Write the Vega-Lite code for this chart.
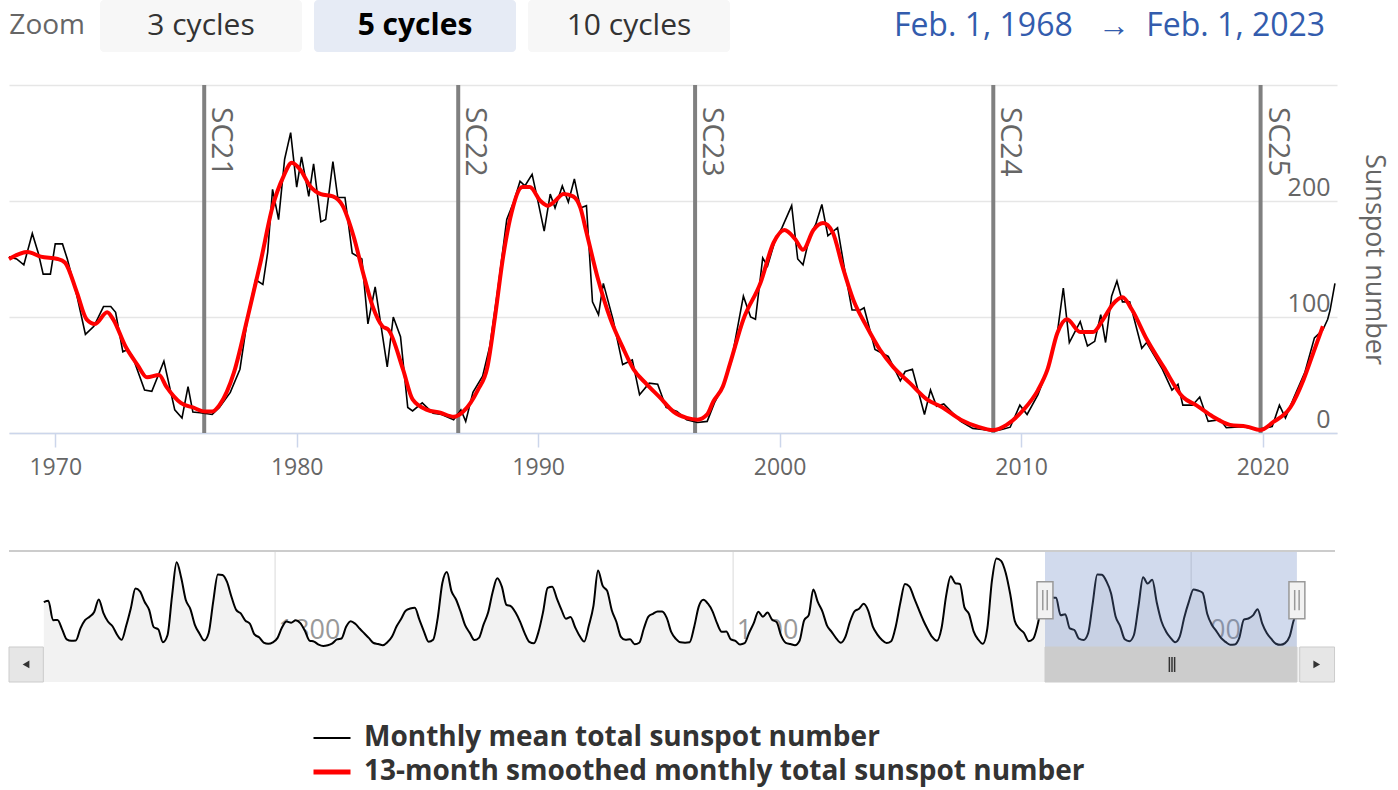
{
 "$schema": "https://vega.github.io/schema/vega-lite/v6.json",
 "padding": {"left": 1, "top": 0, "right": 12, "bottom": 4},
 "background": "white",
 "config": {"view": {"stroke": null}, "font": "Open Sans"},
 "datasets": {
  "header": [
   {"label": "Zoom", "kind": "caption"},
   {"label": "3 cycles", "kind": "button"},
   {"label": "5 cycles", "kind": "selected"},
   {"label": "10 cycles", "kind": "button"},
   {"label": "Feb. 1, 1968\u00a0\u00a0\u00a0→\u00a0\u00a0Feb. 1, 2023", "kind": "range"}
  ],
  "cycles": [
   {"name": "SC21", "start": 1976.17},
   {"name": "SC22", "start": 1986.69},
   {"name": "SC23", "start": 1996.5},
   {"name": "SC24", "start": 2008.85},
   {"name": "SC25", "start": 2019.92}
  ],
  "monthly": [
   {"t":1968.085,"v":152},{"t":1968.4,"v":150},{"t":1968.7,"v":145},{"t":1969.05,"v":172},{"t":1969.3,"v":155},{"t":1969.5,"v":137},{"t":1969.8,"v":137},{"t":1970.0,"v":163},{"t":1970.3,"v":163},{"t":1970.5,"v":150},{"t":1970.9,"v":118},{"t":1971.25,"v":85},{"t":1971.6,"v":92},{"t":1972.0,"v":109},{"t":1972.3,"v":109},{"t":1972.5,"v":104},{"t":1972.8,"v":70},{"t":1973.0,"v":72},{"t":1973.2,"v":66},{"t":1973.7,"v":37},{"t":1974.0,"v":36},{"t":1974.5,"v":62},{"t":1974.95,"v":20},{"t":1975.25,"v":13},{"t":1975.5,"v":40},{"t":1975.7,"v":18},{"t":1976.0,"v":17.5},{"t":1976.5,"v":16},{"t":1976.8,"v":22},{"t":1977.25,"v":35},{"t":1977.65,"v":55},{"t":1978.0,"v":104},{"t":1978.3,"v":132},{"t":1978.6,"v":128},{"t":1978.8,"v":156},{"t":1979.0,"v":210},{"t":1979.25,"v":184},{"t":1979.5,"v":236},{"t":1979.75,"v":259},{"t":1980.0,"v":212},{"t":1980.2,"v":238},{"t":1980.5,"v":204},{"t":1980.7,"v":232},{"t":1981.0,"v":182},{"t":1981.2,"v":184},{"t":1981.5,"v":234},{"t":1981.7,"v":203},{"t":1982.0,"v":203},{"t":1982.3,"v":155},{"t":1982.7,"v":150},{"t":1982.95,"v":94},{"t":1983.25,"v":126},{"t":1983.75,"v":57},{"t":1984.0,"v":100},{"t":1984.3,"v":83},{"t":1984.6,"v":22},{"t":1984.8,"v":19},{"t":1985.2,"v":26},{"t":1985.65,"v":17},{"t":1986.0,"v":16},{"t":1986.5,"v":11.5},{"t":1986.8,"v":20},{"t":1987.0,"v":10},{"t":1987.3,"v":35},{"t":1987.7,"v":49},{"t":1988.0,"v":75},{"t":1988.35,"v":127},{"t":1988.7,"v":184},{"t":1989.0,"v":200},{"t":1989.25,"v":217},{"t":1989.45,"v":213},{"t":1989.75,"v":223},{"t":1990.0,"v":199},{"t":1990.25,"v":174},{"t":1990.5,"v":206},{"t":1990.7,"v":194},{"t":1991.0,"v":213},{"t":1991.25,"v":199},{"t":1991.5,"v":219},{"t":1991.75,"v":194},{"t":1992.0,"v":196},{"t":1992.25,"v":113},{"t":1992.5,"v":102},{"t":1992.7,"v":129},{"t":1993.1,"v":98},{"t":1993.5,"v":59},{"t":1993.9,"v":63},{"t":1994.2,"v":33},{"t":1994.6,"v":43},{"t":1994.95,"v":42},{"t":1995.3,"v":22},{"t":1995.75,"v":18.5},{"t":1996.15,"v":11.5},{"t":1996.6,"v":9},{"t":1997.0,"v":10},{"t":1997.3,"v":26},{"t":1997.65,"v":40},{"t":1998.0,"v":62},{"t":1998.5,"v":118},{"t":1998.8,"v":100},{"t":1999.0,"v":98},{"t":1999.3,"v":151},{"t":1999.5,"v":144},{"t":1999.8,"v":165},{"t":2000.1,"v":177},{"t":2000.5,"v":196},{"t":2000.75,"v":150},{"t":2000.97,"v":145},{"t":2001.25,"v":170},{"t":2001.5,"v":180},{"t":2001.75,"v":197},{"t":2002.0,"v":170},{"t":2002.4,"v":177},{"t":2002.7,"v":140},{"t":2003.0,"v":106},{"t":2003.35,"v":106},{"t":2003.5,"v":108},{"t":2003.95,"v":72},{"t":2004.5,"v":66},{"t":2005.0,"v":45},{"t":2005.2,"v":53},{"t":2005.5,"v":55},{"t":2006.0,"v":16},{"t":2006.25,"v":37},{"t":2006.5,"v":23},{"t":2006.8,"v":25},{"t":2007.5,"v":10},{"t":2008.0,"v":4},{"t":2008.4,"v":3},{"t":2008.85,"v":1.5},{"t":2009.2,"v":3},{"t":2009.55,"v":5},{"t":2009.95,"v":24},{"t":2010.25,"v":16},{"t":2010.7,"v":33},{"t":2011.1,"v":55},{"t":2011.5,"v":86},{"t":2011.75,"v":125},{"t":2012.0,"v":78},{"t":2012.45,"v":96},{"t":2012.75,"v":75},{"t":2013.05,"v":79},{"t":2013.3,"v":102},{"t":2013.5,"v":78},{"t":2013.75,"v":118},{"t":2013.97,"v":131},{"t":2014.2,"v":113},{"t":2014.5,"v":113},{"t":2015.0,"v":73},{"t":2015.2,"v":78},{"t":2015.85,"v":55},{"t":2016.25,"v":37},{"t":2016.5,"v":42},{"t":2016.7,"v":24},{"t":2017.1,"v":24},{"t":2017.4,"v":31},{"t":2017.75,"v":10},{"t":2018.25,"v":11.5},{"t":2018.5,"v":4.5},{"t":2019.2,"v":5.5},{"t":2019.75,"v":3},{"t":2020.4,"v":5.5},{"t":2020.7,"v":24},{"t":2020.95,"v":13},{"t":2021.3,"v":30.5},{"t":2021.75,"v":52},{"t":2022.15,"v":82},{"t":2022.5,"v":89},{"t":2022.7,"v":98},{"t":2022.8,"v":106},{"t":2023.0,"v":129}
  ],
  "smoothed": [
   {"t":1968.085,"v":150},{"t":1968.85,"v":156},{"t":1969.4,"v":152},{"t":1970.1,"v":150},{"t":1970.4,"v":147},{"t":1970.9,"v":121},{"t":1971.3,"v":98},{"t":1971.65,"v":94},{"t":1972.15,"v":104},{"t":1972.4,"v":98},{"t":1972.9,"v":75},{"t":1973.4,"v":59},{"t":1973.8,"v":48},{"t":1974.3,"v":50},{"t":1974.6,"v":40},{"t":1975.2,"v":26},{"t":1975.7,"v":22},{"t":1976.2,"v":18.5},{"t":1976.5,"v":18.5},{"t":1976.8,"v":24},{"t":1977.4,"v":52},{"t":1977.95,"v":98},{"t":1978.5,"v":147},{"t":1979.0,"v":195},{"t":1979.45,"v":221},{"t":1979.8,"v":233},{"t":1980.15,"v":227},{"t":1980.55,"v":213},{"t":1981.0,"v":206},{"t":1981.5,"v":204},{"t":1981.9,"v":196},{"t":1982.35,"v":170},{"t":1982.75,"v":138},{"t":1983.15,"v":109},{"t":1983.55,"v":92},{"t":1983.8,"v":89},{"t":1984.4,"v":55},{"t":1984.8,"v":29},{"t":1985.4,"v":20},{"t":1985.95,"v":17.5},{"t":1986.5,"v":14},{"t":1986.9,"v":18.5},{"t":1987.5,"v":37},{"t":1987.9,"v":57},{"t":1988.2,"v":98},{"t":1988.55,"v":152},{"t":1988.9,"v":190},{"t":1989.35,"v":212},{"t":1989.65,"v":212},{"t":1990.1,"v":200},{"t":1990.4,"v":196},{"t":1990.7,"v":200},{"t":1991.05,"v":206},{"t":1991.45,"v":204},{"t":1991.75,"v":194},{"t":1992.0,"v":173},{"t":1992.45,"v":135},{"t":1993.0,"v":98},{"t":1993.5,"v":74},{"t":1993.95,"v":55},{"t":1994.5,"v":42},{"t":1995.05,"v":30.5},{"t":1995.6,"v":18.5},{"t":1996.15,"v":13},{"t":1996.6,"v":11.5},{"t":1997.0,"v":16},{"t":1997.25,"v":27},{"t":1997.65,"v":40},{"t":1997.95,"v":60},{"t":1998.5,"v":98},{"t":1999.2,"v":129},{"t":1999.75,"v":164},{"t":2000.2,"v":175},{"t":2000.65,"v":167},{"t":2000.97,"v":158},{"t":2001.4,"v":175},{"t":2001.8,"v":181},{"t":2002.2,"v":173},{"t":2002.6,"v":144},{"t":2003.05,"v":115},{"t":2003.6,"v":92},{"t":2004.15,"v":72},{"t":2004.7,"v":57},{"t":2005.4,"v":43},{"t":2006.1,"v":29},{"t":2006.75,"v":22},{"t":2007.5,"v":11.5},{"t":2008.2,"v":5.5},{"t":2008.85,"v":2.5},{"t":2009.4,"v":7},{"t":2010.1,"v":20},{"t":2010.7,"v":37},{"t":2011.1,"v":55},{"t":2011.5,"v":86},{"t":2011.9,"v":98},{"t":2012.45,"v":87},{"t":2012.98,"v":87},{"t":2013.4,"v":98},{"t":2013.8,"v":111},{"t":2014.2,"v":117},{"t":2014.6,"v":106},{"t":2015.2,"v":81},{"t":2015.9,"v":57},{"t":2016.7,"v":31},{"t":2017.25,"v":24},{"t":2017.95,"v":14},{"t":2018.65,"v":7},{"t":2019.35,"v":5.5},{"t":2019.9,"v":2.5},{"t":2020.45,"v":9.5},{"t":2021.15,"v":22},{"t":2021.7,"v":46},{"t":2022.1,"v":69},{"t":2022.5,"v":92}
  ],
  "yearly": [
   {"t":1749.5,"v":134.7},{"t":1750.5,"v":139.0},{"t":1751.5,"v":79.5},{"t":1752.5,"v":79.7},{"t":1753.5,"v":51.2},{"t":1754.5,"v":20.3},{"t":1755.5,"v":16.0},{"t":1756.5,"v":17.0},{"t":1757.5,"v":54.0},{"t":1758.5,"v":79.3},{"t":1759.5,"v":90.0},{"t":1760.5,"v":104.8},{"t":1761.5,"v":143.2},{"t":1762.5,"v":102.0},{"t":1763.5,"v":75.2},{"t":1764.5,"v":60.7},{"t":1765.5,"v":34.8},{"t":1766.5,"v":19.0},{"t":1767.5,"v":63.0},{"t":1768.5,"v":116.3},{"t":1769.5,"v":176.8},{"t":1770.5,"v":168.0},{"t":1771.5,"v":136.0},{"t":1772.5,"v":110.8},{"t":1773.5,"v":58.0},{"t":1774.5,"v":51.0},{"t":1775.5,"v":11.7},{"t":1776.5,"v":33.0},{"t":1777.5,"v":154.2},{"t":1778.5,"v":257.3},{"t":1779.5,"v":209.8},{"t":1780.5,"v":141.3},{"t":1781.5,"v":113.5},{"t":1782.5,"v":64.2},{"t":1783.5,"v":38.0},{"t":1784.5,"v":17.0},{"t":1785.5,"v":40.2},{"t":1786.5,"v":138.2},{"t":1787.5,"v":220.0},{"t":1788.5,"v":218.2},{"t":1789.5,"v":196.8},{"t":1790.5,"v":149.8},{"t":1791.5,"v":111.0},{"t":1792.5,"v":100.0},{"t":1793.5,"v":78.2},{"t":1794.5,"v":68.3},{"t":1795.5,"v":35.5},{"t":1796.5,"v":26.7},{"t":1797.5,"v":10.7},{"t":1798.5,"v":6.8},{"t":1799.5,"v":11.3},
   {"t":1800.5,"v":24.2},{"t":1801.5,"v":56.7},{"t":1802.5,"v":75.0},{"t":1803.5,"v":71.8},{"t":1804.5,"v":79.2},{"t":1805.5,"v":70.3},{"t":1806.5,"v":46.8},{"t":1807.5,"v":16.8},{"t":1808.5,"v":13.5},{"t":1809.5,"v":4.2},{"t":1810.5,"v":0.0},{"t":1811.5,"v":2.3},{"t":1812.5,"v":8.3},{"t":1813.5,"v":20.3},{"t":1814.5,"v":23.2},{"t":1815.5,"v":59.0},{"t":1816.5,"v":76.3},{"t":1817.5,"v":68.3},{"t":1818.5,"v":52.9},{"t":1819.5,"v":38.5},{"t":1820.5,"v":24.2},{"t":1821.5,"v":9.2},{"t":1822.5,"v":6.3},{"t":1823.5,"v":2.2},{"t":1824.5,"v":11.4},{"t":1825.5,"v":28.2},{"t":1826.5,"v":59.9},{"t":1827.5,"v":83.0},{"t":1828.5,"v":108.5},{"t":1829.5,"v":115.2},{"t":1830.5,"v":117.4},{"t":1831.5,"v":80.8},{"t":1832.5,"v":44.3},{"t":1833.5,"v":13.4},{"t":1834.5,"v":19.5},{"t":1835.5,"v":85.8},{"t":1836.5,"v":192.7},{"t":1837.5,"v":227.3},{"t":1838.5,"v":168.7},{"t":1839.5,"v":143.0},{"t":1840.5,"v":105.5},{"t":1841.5,"v":63.3},{"t":1842.5,"v":40.3},{"t":1843.5,"v":18.1},{"t":1844.5,"v":25.1},{"t":1845.5,"v":65.8},{"t":1846.5,"v":102.7},{"t":1847.5,"v":166.3},{"t":1848.5,"v":208.3},{"t":1849.5,"v":182.5},
   {"t":1850.5,"v":126.3},{"t":1851.5,"v":122.0},{"t":1852.5,"v":102.7},{"t":1853.5,"v":74.1},{"t":1854.5,"v":39.0},{"t":1855.5,"v":12.7},{"t":1856.5,"v":8.2},{"t":1857.5,"v":43.4},{"t":1858.5,"v":104.4},{"t":1859.5,"v":178.3},{"t":1860.5,"v":182.2},{"t":1861.5,"v":146.6},{"t":1862.5,"v":112.1},{"t":1863.5,"v":83.5},{"t":1864.5,"v":89.2},{"t":1865.5,"v":57.8},{"t":1866.5,"v":30.7},{"t":1867.5,"v":13.9},{"t":1868.5,"v":62.8},{"t":1869.5,"v":123.6},{"t":1870.5,"v":232.0},{"t":1871.5,"v":185.3},{"t":1872.5,"v":169.2},{"t":1873.5,"v":110.1},{"t":1874.5,"v":74.5},{"t":1875.5,"v":28.3},{"t":1876.5,"v":18.9},{"t":1877.5,"v":20.7},{"t":1878.5,"v":5.7},{"t":1879.5,"v":10.0},{"t":1880.5,"v":53.7},{"t":1881.5,"v":90.5},{"t":1882.5,"v":99.0},{"t":1883.5,"v":106.1},{"t":1884.5,"v":105.8},{"t":1885.5,"v":86.3},{"t":1886.5,"v":42.4},{"t":1887.5,"v":21.8},{"t":1888.5,"v":11.2},{"t":1889.5,"v":10.4},{"t":1890.5,"v":11.8},{"t":1891.5,"v":59.5},{"t":1892.5,"v":121.7},{"t":1893.5,"v":142.0},{"t":1894.5,"v":130.0},{"t":1895.5,"v":106.6},{"t":1896.5,"v":69.4},{"t":1897.5,"v":43.8},{"t":1898.5,"v":44.4},{"t":1899.5,"v":20.2},
   {"t":1900.5,"v":15.7},{"t":1901.5,"v":4.6},{"t":1902.5,"v":8.5},{"t":1903.5,"v":40.8},{"t":1904.5,"v":70.1},{"t":1905.5,"v":105.5},{"t":1906.5,"v":90.1},{"t":1907.5,"v":102.8},{"t":1908.5,"v":80.9},{"t":1909.5,"v":73.2},{"t":1910.5,"v":30.9},{"t":1911.5,"v":9.5},{"t":1912.5,"v":6.0},{"t":1913.5,"v":2.4},{"t":1914.5,"v":16.1},{"t":1915.5,"v":79.0},{"t":1916.5,"v":95.0},{"t":1917.5,"v":173.6},{"t":1918.5,"v":134.6},{"t":1919.5,"v":105.7},{"t":1920.5,"v":62.7},{"t":1921.5,"v":43.5},{"t":1922.5,"v":23.7},{"t":1923.5,"v":9.7},{"t":1924.5,"v":27.9},{"t":1925.5,"v":74.0},{"t":1926.5,"v":106.5},{"t":1927.5,"v":114.7},{"t":1928.5,"v":129.7},{"t":1929.5,"v":108.2},{"t":1930.5,"v":59.4},{"t":1931.5,"v":35.1},{"t":1932.5,"v":18.6},{"t":1933.5,"v":9.2},{"t":1934.5,"v":14.6},{"t":1935.5,"v":60.2},{"t":1936.5,"v":132.8},{"t":1937.5,"v":190.6},{"t":1938.5,"v":182.6},{"t":1939.5,"v":148.0},{"t":1940.5,"v":113.0},{"t":1941.5,"v":79.2},{"t":1942.5,"v":50.8},{"t":1943.5,"v":27.1},{"t":1944.5,"v":16.1},{"t":1945.5,"v":55.3},{"t":1946.5,"v":154.3},{"t":1947.5,"v":214.7},{"t":1948.5,"v":193.0},{"t":1949.5,"v":190.7},
   {"t":1950.5,"v":118.9},{"t":1951.5,"v":98.3},{"t":1952.5,"v":45.0},{"t":1953.5,"v":20.1},{"t":1954.5,"v":6.6},{"t":1955.5,"v":54.2},{"t":1956.5,"v":200.7},{"t":1957.5,"v":269.3},{"t":1958.5,"v":261.7},{"t":1959.5,"v":225.1},{"t":1960.5,"v":159.0},{"t":1961.5,"v":76.4},{"t":1962.5,"v":53.4},{"t":1963.5,"v":39.9},{"t":1964.5,"v":15.0},{"t":1965.5,"v":22.0},{"t":1966.5,"v":66.8},{"t":1967.5,"v":132.9},{"t":1968.5,"v":150.2},{"t":1969.5,"v":149.4},{"t":1970.5,"v":148.0},{"t":1971.5,"v":94.4},{"t":1972.5,"v":97.6},{"t":1973.5,"v":54.1},{"t":1974.5,"v":49.2},{"t":1975.5,"v":22.5},{"t":1976.5,"v":18.4},{"t":1977.5,"v":39.3},{"t":1978.5,"v":131.0},{"t":1979.5,"v":220.1},{"t":1980.5,"v":218.9},{"t":1981.5,"v":198.9},{"t":1982.5,"v":162.4},{"t":1983.5,"v":91.0},{"t":1984.5,"v":60.5},{"t":1985.5,"v":20.6},{"t":1986.5,"v":14.8},{"t":1987.5,"v":33.9},{"t":1988.5,"v":123.0},{"t":1989.5,"v":211.1},{"t":1990.5,"v":191.8},{"t":1991.5,"v":203.3},{"t":1992.5,"v":133.0},{"t":1993.5,"v":76.1},{"t":1994.5,"v":44.9},{"t":1995.5,"v":25.1},{"t":1996.5,"v":11.6},{"t":1997.5,"v":28.9},{"t":1998.5,"v":88.3},{"t":1999.5,"v":136.3},
   {"t":2000.5,"v":173.9},{"t":2001.5,"v":170.4},{"t":2002.5,"v":163.6},{"t":2003.5,"v":99.3},{"t":2004.5,"v":65.3},{"t":2005.5,"v":45.8},{"t":2006.5,"v":24.7},{"t":2007.5,"v":12.6},{"t":2008.5,"v":4.2},{"t":2009.5,"v":4.8},{"t":2010.5,"v":24.9},{"t":2011.5,"v":80.8},{"t":2012.5,"v":84.5},{"t":2013.5,"v":94.0},{"t":2014.5,"v":113.3},{"t":2015.5,"v":69.8},{"t":2016.5,"v":39.8},{"t":2017.5,"v":21.7},{"t":2018.5,"v":7.0},{"t":2019.5,"v":3.6},{"t":2020.5,"v":8.8},{"t":2021.5,"v":29.6},{"t":2022.5,"v":83.2},{"t":2023.0,"v":92}
  ],
  "navgrid": [{"t": 1800}, {"t": 1900}, {"t": 2000}],
  "selection": [{"from": 1968.085, "to": 2023.085}],
  "handles": [{"t": 1968.085}, {"t": 2023.085}],
  "scroll": [
   {"part": "track", "from": 1741.9, "to": 2031.4},
   {"part": "left", "from": 1741.9, "to": 1749.4},
   {"part": "right", "from": 2023.7, "to": 2031.3},
   {"part": "thumb", "from": 1968.085, "to": 2023.085}
  ]
 },
 "bounds": "flush",
 "spacing": 33,
 "resolve": {"scale": {"x": "independent", "y": "independent"}},
 "vconcat": [
  {
   "width": 1328,
   "height": 52,
   "data": {"name": "header"},
   "layer": [
    {
     "transform": [{"filter": "datum.kind == 'button' || datum.kind == 'selected'"}],
     "mark": {"type": "rect", "cornerRadius": 4},
     "encoding": {
      "x": {"field": "label", "type": "nominal", "axis": null,
            "scale": {"type": "band", "domain": ["Zoom", "3 cycles", "5 cycles", "10 cycles", "gap", "Feb. 1, 1968\u00a0\u00a0\u00a0→\u00a0\u00a0Feb. 1, 2023"], "range": [-123, 1149], "paddingInner": 0.056, "paddingOuter": 0}},
      "fill": {"condition": {"test": "datum.kind == 'selected'", "value": "#e6ebf5"}, "value": "#f7f7f7"}
     }
    },
    {
     "transform": [{"filter": "datum.kind == 'button'"}],
     "mark": {"type": "text", "fontSize": 30, "color": "#333333", "align": "center", "baseline": "middle"},
     "encoding": {"x": {"field": "label", "type": "nominal", "bandPosition": 0.5}, "text": {"field": "label"}}
    },
    {
     "transform": [{"filter": "datum.kind == 'selected'"}],
     "mark": {"type": "text", "fontSize": 30, "fontWeight": "bold", "color": "#000000", "align": "center", "baseline": "middle"},
     "encoding": {"x": {"field": "label", "type": "nominal", "bandPosition": 0.5}, "text": {"field": "label"}}
    },
    {
     "transform": [{"filter": "datum.kind == 'caption'"}],
     "mark": {"type": "text", "fontSize": 28, "color": "#666666", "align": "right", "baseline": "middle", "dx": -3},
     "encoding": {"x": {"field": "label", "type": "nominal", "bandPosition": 1}, "text": {"field": "label"}}
    },
    {
     "transform": [{"filter": "datum.kind == 'range'"}],
     "mark": {"type": "text", "fontSize": 32, "color": "#335cad", "align": "center", "baseline": "middle"},
     "encoding": {"x": {"field": "label", "type": "nominal", "bandPosition": 0.76}, "text": {"field": "label"}}
    }
   ]
  },
  {
   "width": 1328,
   "height": 348,
   "layer": [
    {
     "data": {"name": "cycles"},
     "mark": {"type": "rule", "color": "#808080", "strokeWidth": 4},
     "encoding": {
      "x": {"field": "start", "type": "quantitative",
            "scale": {"domain": [1968.085, 2023.085], "nice": false, "zero": false},
            "axis": {"values": [1970, 1980, 1990, 2000, 2010, 2020], "format": "d", "title": null, "grid": false,
                     "domainColor": "#ccd6eb", "domainWidth": 1.5, "tickColor": "#ccd6eb", "tickWidth": 1.5, "tickSize": 14,
                     "labelFontSize": 23, "labelColor": "#666666", "labelPadding": 9}}
     }
    },
    {
     "data": {"name": "cycles"},
     "mark": {"type": "text", "angle": 90, "align": "left", "baseline": "alphabetic", "dx": 22, "dy": -8, "fontSize": 30, "color": "#666666"},
     "encoding": {
      "x": {"field": "start", "type": "quantitative"},
      "y": {"datum": 300, "type": "quantitative"},
      "text": {"field": "name"}
     }
    },
    {
     "data": {"name": "monthly"},
     "mark": {"type": "line", "strokeWidth": 1.6},
     "encoding": {
      "x": {"field": "t", "type": "quantitative"},
      "y": {"field": "v", "type": "quantitative",
            "scale": {"domain": [0, 300], "nice": false, "zero": false},
            "axis": {"orient": "right", "values": [0, 100, 200, 300], "labelExpr": "datum.value == 300 ? '' : datum.label",
                     "grid": true, "gridColor": "#e6e6e6", "gridWidth": 1.5, "domain": false, "ticks": false,
                     "labelAlign": "right", "labelBaseline": "alphabetic", "labelPadding": -7, "labelOffset": -6,
                     "labelFontSize": 25, "labelColor": "#666666",
                     "title": "Sunspot number", "titleFontSize": 27, "titleFontWeight": "normal", "titleColor": "#666666", "titlePadding": 22}},
      "color": {"datum": "Monthly mean total sunspot number", "type": "nominal",
                "scale": {"domain": ["Monthly mean total sunspot number", "13-month smoothed monthly total sunspot number"], "range": ["#000000", "#ff0000"]},
                "legend": {"orient": "none", "legendX": 309, "legendY": 724, "direction": "vertical", "title": null,
                           "symbolType": "stroke", "symbolSize": 1369, "symbolStrokeWidth": 2,
                           "labelFontSize": 28, "labelFontWeight": "bold", "labelColor": "#333333", "labelLimit": 0, "labelOffset": 18, "rowPadding": 6,
                           "encode": {"symbols": {"update": {"strokeWidth": {"signal": "datum.value == 'Monthly mean total sunspot number' ? 2 : 5"}}}}}}
     }
    },
    {
     "data": {"name": "smoothed"},
     "mark": {"type": "line", "strokeWidth": 4, "interpolate": "monotone"},
     "encoding": {
      "x": {"field": "t", "type": "quantitative"},
      "y": {"field": "v", "type": "quantitative"},
      "color": {"datum": "13-month smoothed monthly total sunspot number", "type": "nominal"}
     }
    }
   ]
  },
  {
   "width": 1326,
   "height": 216,
   "layer": [
    {
     "data": {"name": "navgrid"},
     "mark": {"type": "rule", "color": "#e6e6e6", "strokeWidth": 1.5},
     "encoding": {
      "x": {"field": "t", "type": "quantitative",
            "scale": {"domain": [1741.9, 2031.4], "nice": false, "zero": false},
            "axis": {"values": [1800, 1900, 2000], "format": "d", "title": null, "grid": false,
                     "ticks": false, "domain": false, "labelAlign": "left", "labelBaseline": "alphabetic", "labelPadding": -44, "labelOffset": 3,
                     "labelColor": "#999999", "labelFontSize": 27}},
      "y": {"datum": 292, "type": "quantitative", "scale": {"domain": [-110.6, 553.2], "nice": false, "zero": false}, "axis": null},
      "y2": {"datum": -3}
     }
    },
    {
     "data": {"name": "yearly"},
     "mark": {"type": "area", "interpolate": "monotone", "fill": "#f2f2f2"},
     "encoding": {
      "x": {"field": "t", "type": "quantitative"},
      "y": {"field": "v", "type": "quantitative"},
      "y2": {"datum": -3}
     }
    },
    {
     "data": {"name": "yearly"},
     "mark": {"type": "line", "interpolate": "monotone", "color": "#000000", "strokeWidth": 2},
     "encoding": {
      "x": {"field": "t", "type": "quantitative"},
      "y": {"field": "v", "type": "quantitative"}
     }
    },
    {
     "data": {"name": "selection"},
     "mark": {"type": "rect", "fill": "#6685c2", "opacity": 0.3},
     "encoding": {"x": {"field": "from", "type": "quantitative"}, "x2": {"field": "to"}, "y": {"datum": 292, "type": "quantitative"}, "y2": {"datum": -3}}
    },
    {
     "data": {"name": "selection"},
     "mark": {"type": "rule", "color": "#cccccc", "strokeWidth": 2},
     "encoding": {"y": {"datum": 292, "type": "quantitative"}}
    },
    {
     "data": {"name": "handles"},
     "mark": {"type": "point", "shape": "M-0.43,-1H0.43V1H-0.43Z", "filled": true, "fill": "#f2f2f2", "stroke": "#999999", "strokeWidth": 1.5, "size": 1369, "opacity": 1},
     "encoding": {"x": {"field": "t", "type": "quantitative"}, "y": {"datum": 141, "type": "quantitative"}}
    },
    {
     "data": {"name": "handles"},
     "mark": {"type": "point", "shape": "M-0.12,-0.55V0.55M0.12,-0.55V0.55", "filled": false, "stroke": "#999999", "strokeWidth": 1.5, "size": 1369, "opacity": 1},
     "encoding": {"x": {"field": "t", "type": "quantitative"}, "y": {"datum": 141, "type": "quantitative"}}
    },
    {
     "data": {"name": "scroll"},
     "transform": [{"filter": "datum.part == 'track'"}],
     "mark": {"type": "rect", "fill": "#f2f2f2"},
     "encoding": {"x": {"field": "from", "type": "quantitative"}, "x2": {"field": "to"}, "y": {"datum": -3, "type": "quantitative"}, "y2": {"datum": -110.6}}
    },
    {
     "data": {"name": "scroll"},
     "transform": [{"filter": "datum.part == 'left' || datum.part == 'right'"}],
     "mark": {"type": "rect", "fill": "#e6e6e6", "stroke": "#cccccc", "strokeWidth": 1},
     "encoding": {"x": {"field": "from", "type": "quantitative"}, "x2": {"field": "to"}, "y": {"datum": -3, "type": "quantitative"}, "y2": {"datum": -110.6}}
    },
    {
     "data": {"name": "scroll"},
     "transform": [{"filter": "datum.part == 'thumb'"}],
     "mark": {"type": "rect", "fill": "#cccccc", "stroke": "#cccccc"},
     "encoding": {"x": {"field": "from", "type": "quantitative"}, "x2": {"field": "to"}, "y": {"datum": -3, "type": "quantitative"}, "y2": {"datum": -110.6}}
    },
    {
     "data": {"name": "scroll"},
     "transform": [{"filter": "datum.part == 'left'"}],
     "mark": {"type": "point", "shape": "triangle-left", "filled": true, "color": "#333333", "size": 60, "opacity": 1},
     "encoding": {"x": {"field": "from", "type": "quantitative"}, "xOffset": {"value": 17}, "y": {"datum": -56.8, "type": "quantitative"}}
    },
    {
     "data": {"name": "scroll"},
     "transform": [{"filter": "datum.part == 'right'"}],
     "mark": {"type": "point", "shape": "triangle-right", "filled": true, "color": "#333333", "size": 60, "opacity": 1},
     "encoding": {"x": {"field": "from", "type": "quantitative"}, "xOffset": {"value": 17}, "y": {"datum": -56.8, "type": "quantitative"}}
    },
    {
     "data": {"name": "scroll"},
     "transform": [{"filter": "datum.part == 'thumb'"}],
     "mark": {"type": "point", "shape": "M-0.35,-1V1M0,-1V1M0.35,-1V1", "filled": false, "stroke": "#333333", "strokeWidth": 1.5, "size": 225, "opacity": 1},
     "encoding": {"x": {"field": "from", "type": "quantitative"}, "xOffset": {"value": 127}, "y": {"datum": -56.8, "type": "quantitative"}}
    }
   ]
  }
 ]
}
